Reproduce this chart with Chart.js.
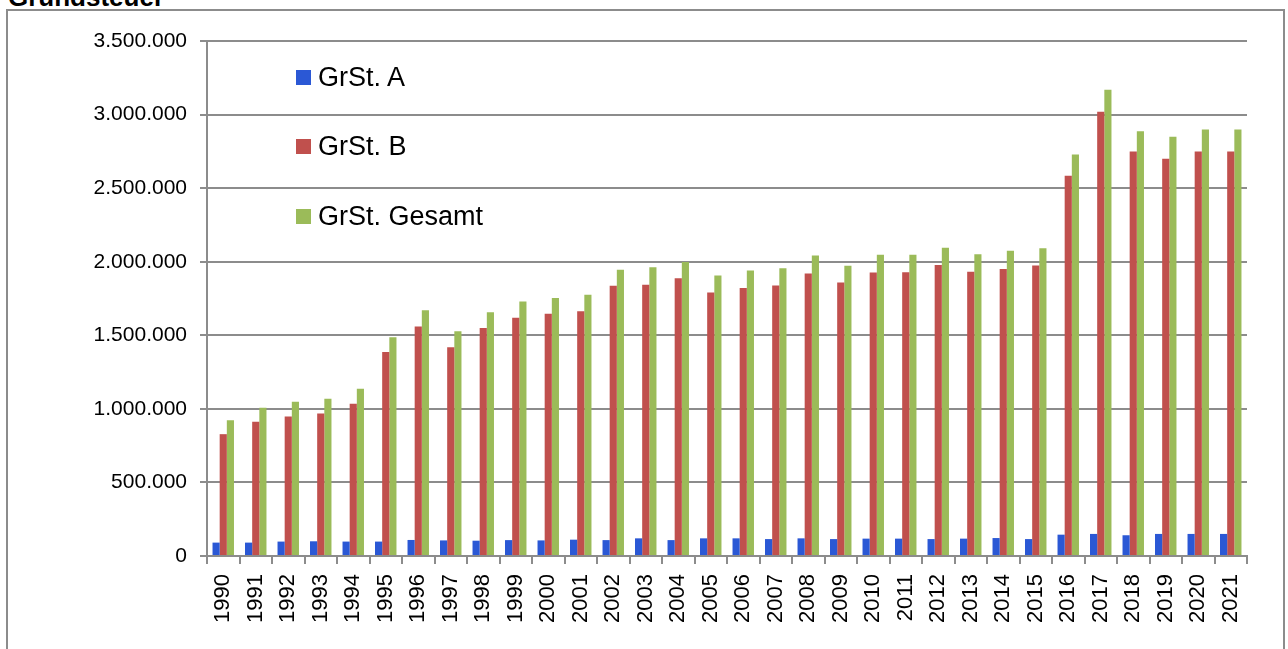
<!DOCTYPE html>
<html>
<head>
<meta charset="utf-8">
<script src="https://cdn.jsdelivr.net/npm/chart.js@4/dist/chart.umd.min.js"></script>
<style>
  html, body { margin: 0; padding: 0; background: #fff; }
  #wrap { position: relative; width: 1288px; height: 649px; overflow: hidden; font-family: "Liberation Sans", Arial, sans-serif; }
  #frame { position: absolute; left: 6px; top: 9px; width: 1279px; height: 700px; border: 2px solid #8c8c8c; box-sizing: border-box; }
  #title { position: absolute; left: 8px; top: -16px; font-weight: bold; font-size: 26px; line-height: 26px; color: #000; white-space: nowrap; }
  #c { position: absolute; left: 0; top: 0; }
  .lg { position: absolute; left: 296px; height: 30px; display: flex; align-items: center; font-size: 27px; color: #000; white-space: nowrap; }
  .lg span.sw { display: inline-block; width: 15px; height: 15px; margin-right: 7px; }
</style>
</head>
<body>
<div id="wrap">
  <div id="frame"></div>
  <div id="title">Grundsteuer</div>
  <canvas id="c" width="1288" height="649"></canvas>
</div>
<script>
const years = ["1990","1991","1992","1993","1994","1995","1996","1997","1998","1999",
               "2000","2001","2002","2003","2004","2005","2006","2007","2008","2009",
               "2010","2011","2012","2013","2014","2015","2016","2017","2018","2019",
               "2020","2021"];
const grstA = [91000, 91000, 98000, 100000, 98000, 98000, 109000, 106000, 104000, 108000,
               106000, 111000, 108000, 120000, 108000, 120000, 120000, 115000, 120000, 115000,
               118000, 118000, 115000, 118000, 122000, 115000, 145000, 150000, 141000, 150000,
               150000, 150000];
const grstB = [828000, 912000, 948000, 968000, 1034000, 1387000, 1559000, 1418000, 1550000, 1620000,
               1647000, 1663000, 1837000, 1844000, 1887000, 1790000, 1821000, 1839000, 1920000, 1858000,
               1927000, 1929000, 1977000, 1932000, 1950000, 1975000, 2584000, 3020000, 2749000, 2700000,
               2749000, 2749000];
const grstGesamt = [923000, 1007000, 1048000, 1068000, 1136000, 1486000, 1670000, 1527000, 1657000, 1730000,
               1753000, 1776000, 1946000, 1963000, 1998000, 1907000, 1941000, 1955000, 2043000, 1973000,
               2047000, 2047000, 2095000, 2050000, 2075000, 2092000, 2729000, 3168000, 2887000, 2849000,
               2898000, 2898000];
const seriesNames = ["GrSt. A", "GrSt. B", "GrSt. Gesamt"];
const yMin = 0, yMax = 3500000, yStep = 500000;

const colors = ["#2B58D5", "#C0504D", "#9BBB59"];
const gridColor = "#8c8c8c";
const fontFamily = '"Liberation Sans", Arial, sans-serif';

function fmt(v) {
  return String(Math.round(v)).replace(/\B(?=(\d{3})+(?!\d))/g, ".");
}

const chart = new Chart(document.getElementById("c"), {
  type: "bar",
  data: {
    labels: years,
    datasets: [grstA, grstB, grstGesamt].map((d, i) => ({
      label: seriesNames[i],
      data: d,
      backgroundColor: colors[i],
      borderWidth: 0,
      barPercentage: 1.0,
      categoryPercentage: 0.66
    }))
  },
  options: {
    responsive: false,
    animation: false,
    layout: { padding: { left: 0, top: 41, right: 41, bottom: 0 } },
    plugins: { legend: { display: false }, tooltip: { enabled: false }, title: { display: false } },
    scales: {
      x: {
        grid: { display: true, drawOnChartArea: false, drawTicks: true, tickLength: 8, color: gridColor, lineWidth: 2, offset: true },
        border: { display: true, color: gridColor, width: 2 },
        ticks: { minRotation: 90, maxRotation: 90, autoSkip: false, padding: 10, color: "#000",
                 font: { family: fontFamily, size: 22 } },
        afterFit: s => { s.height = 93; }
      },
      y: {
        min: yMin, max: yMax,
        grid: { color: gridColor, lineWidth: 2, tickLength: 7, drawTicks: true },
        border: { display: true, color: gridColor, width: 2 },
        ticks: { stepSize: yStep, padding: 13, color: "#000", callback: v => fmt(v),
                 font: { family: fontFamily, size: 21 } },
        afterFit: s => { s.width = 207; }
      }
    }
  }
});

// HTML legend built from the chart's datasets
const wrap = document.getElementById("wrap");
chart.data.datasets.forEach((ds, i) => {
  const el = document.createElement("div");
  el.className = "lg";
  el.style.top = (62 + i * 69.5) + "px";
  const sw = document.createElement("span");
  sw.className = "sw";
  sw.style.background = ds.backgroundColor;
  el.appendChild(sw);
  el.appendChild(document.createTextNode(ds.label));
  wrap.appendChild(el);
});
</script>
</body>
</html>
